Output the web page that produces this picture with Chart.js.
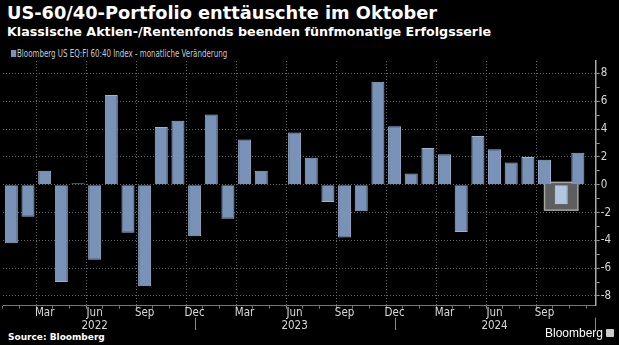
<!DOCTYPE html>
<html lang="de">
<head>
  <meta charset="UTF-8">
  <title>US-60/40-Portfolio</title>
  <script src="https://cdn.jsdelivr.net/npm/chart.js"></script>
  <style>
    html, body { margin: 0; padding: 0; background: #000; }
    body { width: 619px; height: 345px; position: relative; overflow: hidden; font-family: "DejaVu Sans", sans-serif; color: #fff; }
    #title { position: absolute; left: 7px; top: 2px; font-size: 17.8px; font-weight: bold; white-space: nowrap; }
    #subtitle { position: absolute; left: 7px; top: 24px; font-size: 12.7px; font-weight: bold; white-space: nowrap; }
    #legend { position: absolute; left: 11px; top: 47px; font-family: "DejaVu Sans Condensed", sans-serif; font-size: 10.5px; color: #c8c8c8; white-space: nowrap; transform: scaleX(0.75); transform-origin: 0 0; }
    #legend i { display: inline-block; width: 7px; height: 7px; background: #7892b8; margin-right: 1px; }
    #source { position: absolute; left: 8px; top: 332px; font-size: 9px; font-weight: bold; }
    #logo { position: absolute; left: 545px; top: 326px; font-family: "Liberation Sans", sans-serif; font-size: 12px; white-space: nowrap; }
    #logo span { display: inline-block; width: 8px; height: 8px; background: #ccc; border-radius: 1px; margin-left: 3px; }
    #wrap { position: absolute; left: 0; top: 39px; width: 619px; height: 291px; }
  </style>
</head>
<body>
  <div id="title">US-60/40-Portfolio enttäuschte im Oktober</div>
  <div id="subtitle">Klassische Aktien-/Rentenfonds beenden fünfmonatige Erfolgsserie</div>
  <div id="legend"><i></i><span id="serie"></span></div>
  <div id="wrap"><canvas id="chart"></canvas></div>
  <div id="source">Source: Bloomberg</div>
  <div id="logo">Bloomberg<span></span></div>

  <script>
    // Monate Jan 2022 .. Nov 2024
    const monate = ["Jan","Feb","Mar","Apr","May","Jun","Jul","Aug","Sep","Oct","Nov","Dec"];
    const jahre = [2022, 2023, 2024];
    const werte2022 = [-4.2, -2.3, 1.0, -7.0, 0.1, -5.4, 6.45, -3.45, -7.3, 4.15, 4.6, -3.7];
    const werte2023 = [5.05, -2.45, 3.25, 1.0, 0.05, 3.75, 1.95, -1.25, -3.8, -1.9, 7.4, 4.2];
    const werte2024 = [0.8, 2.65, 2.2, -3.4, 3.5, 2.55, 1.6, 2.0, 1.8, -1.4, 2.3];
    const werte = werte2022.concat(werte2023, werte2024);
    const serieName = "Bloomberg US EQ:FI 60:40 Index - monatliche Veränderung";
    const markiert = 33; // Oktober 2024

    document.getElementById("serie").textContent = serieName;

    const labels = werte.map((_, i) => ({ m: monate[i % 12], j: jahre[Math.floor(i / 12)] }));
    const quartal = ["Mar", "Jun", "Sep", "Dec"];
    const schrift = "DejaVu Sans Condensed";

    const boxPlugin = {
      id: "box",
      beforeDatasetsDraw(chart) {
        const { ctx, scales: { x, y } } = chart;
        const x1 = x.getPixelForValue(markiert - 1), x2 = x.getPixelForValue(markiert + 1);
        const y1 = y.getPixelForValue(0.17), y2 = y.getPixelForValue(-1.83);
        ctx.save();
        ctx.fillStyle = "#5e5e5e";
        ctx.strokeStyle = "#a5a5a5";
        ctx.lineWidth = 1.5;
        ctx.fillRect(x1, y1, x2 - x1, y2 - y1);
        ctx.strokeRect(x1, y1, x2 - x1, y2 - y1);
        ctx.restore();
      },
      afterDraw(chart) {
        const { ctx, chartArea, scales: { x } } = chart;
        ctx.save();
        ctx.strokeStyle = "#888";
        ctx.lineWidth = 1;
        [11, 23, 35].forEach(i => {
          const px = Math.round(x.getPixelForValue(i)) + 0.5;
          ctx.beginPath();
          ctx.moveTo(px, chartArea.bottom + 12);
          ctx.lineTo(px, chartArea.bottom + 26);
          ctx.stroke();
        });
        ctx.restore();
      }
    };

    new Chart(document.getElementById("chart"), {
      type: "bar",
      data: {
        datasets: [{
          label: serieName,
          data: werte.map((v, i) => ({ x: i, y: v })),
          backgroundColor: werte.map((_, i) => i === markiert ? "#b3c6e0" : "#7892b8"),
          borderColor: werte.map((_, i) => i === markiert ? "#d0dcec" : "#9db1d0"),
          borderWidth: 1,
          categoryPercentage: 1,
          barPercentage: 0.78
        }]
      },
      options: {
        responsive: true,
        maintainAspectRatio: false,
        animation: false,
        layout: { padding: { left: 3, right: 7, top: 22, bottom: 0 } },
        plugins: {
          legend: { display: false },
          tooltip: { enabled: false }
        },
        scales: {
          x: {
            type: "linear",
            min: -0.5,
            max: 35.07,
            offset: false,
            afterBuildTicks: s => { s.ticks = s.ticks.filter(t => Number.isInteger(t.value) && t.value >= 0 && t.value < werte.length); },
            ticks: {
              stepSize: 1,
              includeBounds: false,
              maxTicksLimit: 100,
              autoSkip: false,
              maxRotation: 0,
              color: "#d8d8d8",
              padding: -2,
              font: { family: schrift, size: 11.5, lineHeight: 1.1 },
              callback: v => {
                const l = labels[v];
                if (!l || !quartal.includes(l.m)) return "";
                return l.m === "Jun" ? [l.m, String(l.j)] : l.m;
              }
            },
            grid: {
              color: c => {
                const l = labels[c.tick && c.tick.value];
                return l && quartal.includes(l.m) ? "#666" : "transparent";
              },
              tickColor: "#777",
              tickLength: 3
            },
            border: { color: "#777", dash: [1, 2] }
          },
          y: {
            position: "right",
            min: -8.7,
            max: 8.9,
            afterBuildTicks: s => { s.ticks = s.ticks.filter(t => Number.isInteger(t.value)); },
            ticks: {
              stepSize: 1,
              includeBounds: false,
              maxTicksLimit: 100,
              autoSkip: false,
              color: "#d8d8d8",
              padding: 1,
              font: { family: schrift, size: 11.5 },
              callback: v => v % 2 === 0 ? String(v) : ""
            },
            grid: {
              color: c => c.tick && c.tick.value % 2 === 0 ? "#666" : "transparent",
              tickColor: "#999",
              tickLength: 4
            },
            border: { color: "#aaa", width: 1.5, dash: [1, 2] }
          }
        }
      },
      plugins: [boxPlugin]
    });
  </script>
</body>
</html>
